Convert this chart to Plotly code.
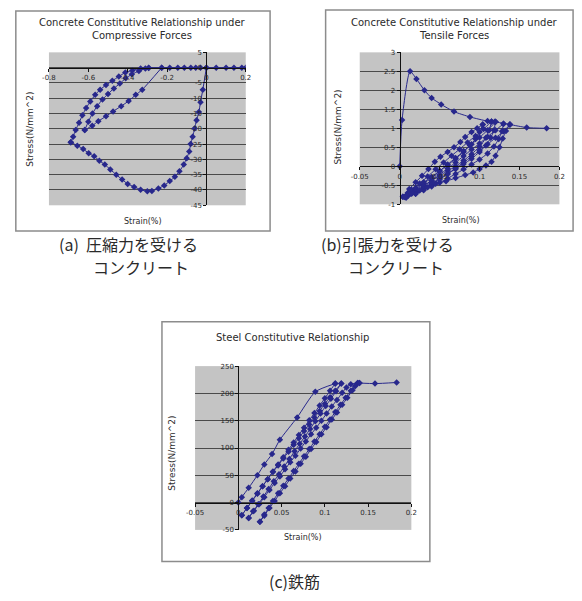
import plotly.graph_objects as go

W, H = 582, 601

# ---------------- (a) concrete under compression ----------------
a_env_x = [0.0, -0.018, -0.03, -0.038, -0.05, -0.06, -0.07, -0.08, -0.087, -0.1, -0.115,
           -0.137, -0.16, -0.186, -0.214, -0.244, -0.277, -0.3, -0.334, -0.367, -0.4,
           -0.428, -0.458, -0.488, -0.516, -0.544, -0.57, -0.598, -0.626, -0.656, -0.689]
a_env_y = [0, -7.2, -11.3, -14.5, -17.2, -19.9, -22.6, -25.0, -27.4, -29.6, -31.7,
           -33.9, -35.7, -37.1, -38.5, -39.5, -40.3, -40.4, -39.9, -39.0, -38.0,
           -36.6, -35.0, -33.3, -31.7, -30.4, -29.0, -28.0, -26.6, -25.5, -24.4]
a_unload1_x = [-0.689, -0.677, -0.664, -0.647, -0.63, -0.611, -0.59, -0.565, -0.54, -0.51,
               -0.478, -0.445, -0.412, -0.376, -0.334, -0.293]
a_unload1_y = [-24.4, -22.6, -20.4, -18.0, -15.6, -13.2, -11.1, -8.9, -7.2, -5.7,
               -4.3, -2.9, -1.6, -0.9, -0.3, -0.1]
a_zero_x = [-0.293, -0.227, -0.186, -0.145, -0.112, -0.079, -0.054, -0.03, 0.0,
            0.05, 0.1, 0.14, 0.18, 0.2]
a_zero_y = [0, 0, 0, 0, 0, 0, 0, 0, 0, 0, 0, 0, 0, 0]
a_reload_x = [-0.227, -0.326, -0.359, -0.395, -0.433, -0.474, -0.51, -0.549, -0.58, -0.618]
a_reload_y = [0, -7.2, -8.9, -10.9, -12.6, -14.3, -15.9, -17.5, -19.0, -20.4]
a_unload2_x = [-0.618, -0.6, -0.579, -0.555, -0.528, -0.5, -0.47, -0.44, -0.41, -0.379,
               -0.343, -0.31]
a_unload2_y = [-20.4, -17.7, -15.0, -12.6, -10.4, -8.6, -6.8, -5.2, -3.5, -2.2, -1.1, -0.3]

# ---------------- (b) concrete under tension ----------------
b_env_x = [0.0, 0.003, 0.013, 0.021, 0.031, 0.04, 0.052, 0.068, 0.088, 0.11, 0.119,
           0.138, 0.159, 0.184]
b_env_y = [0.0, 1.22, 2.5, 2.3, 2.0, 1.8, 1.63, 1.44, 1.3, 1.19, 1.17, 1.1, 1.02, 1.0]
b_r1_x = [0.004, 0.012, 0.02, 0.028, 0.036, 0.044, 0.051, 0.06, 0.068, 0.076, 0.082, 0.09, 0.097, 0.104]
b_r1_y = [-0.8, -0.6, -0.42, -0.25, -0.07, 0.12, 0.25, 0.38, 0.5, 0.64, 0.77, 0.9, 1.0, 1.1]
b_u1_x = [0.104, 0.1, 0.095, 0.088, 0.08, 0.07, 0.06, 0.05, 0.04, 0.03, 0.02, 0.01, 0.004]
b_u1_y = [1.1, 0.9, 0.72, 0.55, 0.38, 0.2, 0.03, -0.12, -0.28, -0.42, -0.57, -0.7, -0.8]
b_r2_x = [0.008, 0.015, 0.025, 0.035, 0.045, 0.055, 0.065, 0.075, 0.085, 0.095, 0.105, 0.115]
b_r2_y = [-0.78, -0.62, -0.45, -0.27, -0.08, 0.1, 0.28, 0.45, 0.63, 0.8, 0.98, 1.18]
b_u2_x = [0.115, 0.112, 0.108, 0.1, 0.09, 0.08, 0.07, 0.06, 0.05, 0.04, 0.03, 0.02, 0.012]
b_u2_y = [1.18, 0.95, 0.75, 0.52, 0.32, 0.15, 0.0, -0.12, -0.25, -0.38, -0.5, -0.62, -0.72]
b_r3_x = [0.012, 0.02, 0.03, 0.04, 0.05, 0.06, 0.07, 0.08, 0.09, 0.1, 0.11, 0.12]
b_r3_y = [-0.72, -0.6, -0.45, -0.3, -0.13, 0.05, 0.22, 0.4, 0.58, 0.76, 0.95, 1.17]
b_u3_x = [0.12, 0.118, 0.114, 0.108, 0.1, 0.09, 0.08, 0.07, 0.06, 0.05, 0.04, 0.03, 0.02, 0.01]
b_u3_y = [1.17, 0.95, 0.75, 0.55, 0.38, 0.2, 0.06, -0.07, -0.2, -0.32, -0.45, -0.57, -0.68, -0.78]
b_r4_x = [0.01, 0.02, 0.03, 0.04, 0.05, 0.06, 0.07, 0.08, 0.09, 0.1, 0.11, 0.12, 0.13]
b_r4_y = [-0.78, -0.66, -0.52, -0.38, -0.22, -0.06, 0.1, 0.27, 0.44, 0.6, 0.78, 0.95, 1.12]
b_u4_x = [0.13, 0.128, 0.124, 0.118, 0.11, 0.1, 0.09, 0.08, 0.07, 0.06, 0.05, 0.04, 0.03, 0.02, 0.008]
b_u4_y = [1.12, 0.92, 0.72, 0.52, 0.34, 0.18, 0.05, -0.08, -0.2, -0.32, -0.43, -0.53, -0.63, -0.72, -0.82]
b_r5_x = [0.008, 0.02, 0.03, 0.04, 0.05, 0.06, 0.07, 0.08, 0.09, 0.1, 0.11, 0.12, 0.13, 0.138]
b_r5_y = [-0.82, -0.72, -0.6, -0.48, -0.35, -0.2, -0.05, 0.1, 0.26, 0.42, 0.58, 0.75, 0.92, 1.1]
b_u5_x = [0.138, 0.133, 0.129, 0.125, 0.12, 0.115, 0.108, 0.1, 0.092, 0.082, 0.07, 0.058,
          0.045, 0.035, 0.025, 0.015, 0.006]
b_u5_y = [1.1, 0.93, 0.73, 0.5, 0.28, 0.12, 0.02, -0.07, -0.16, -0.23, -0.31, -0.39,
          -0.46, -0.55, -0.64, -0.72, -0.81]

# ---------------- (c) reinforcing steel ----------------
c_load_x = [0.0, 0.004, 0.012, 0.022, 0.03, 0.039, 0.048, 0.068, 0.089, 0.112]
c_load_y = [0, 10, 27, 50, 70, 89, 115, 156, 203, 218]
c_u1_x = [0.112, 0.106, 0.1, 0.094, 0.088, 0.082, 0.076, 0.07, 0.064, 0.058, 0.052, 0.046,
          0.04, 0.034, 0.028, 0.022, 0.016, 0.01, 0.004]
c_u1_y = [218, 205, 191, 178, 164, 151, 137, 124, 110, 97, 83, 70, 57, 43, 30, 16, 3, -10, -23]
c_r1_x = [0.004, 0.01, 0.016, 0.022, 0.028, 0.034, 0.04, 0.046, 0.052, 0.058, 0.064, 0.07,
          0.076, 0.082, 0.088, 0.094, 0.1, 0.106, 0.112, 0.119]
c_r1_y = [-23, -10, 4, 17, 30, 43, 56, 68, 81, 93, 106, 118, 131, 143, 156, 168, 181, 193, 205, 218]
c_u2_x = [0.119, 0.113, 0.107, 0.101, 0.095, 0.089, 0.083, 0.077, 0.071, 0.065, 0.059, 0.053,
          0.047, 0.041, 0.035, 0.029, 0.023, 0.017, 0.012]
c_u2_y = [218, 204, 190, 177, 163, 149, 135, 121, 108, 94, 80, 66, 52, 39, 25, 11, -3, -16, -28]
c_r2_x = [0.012, 0.018, 0.024, 0.03, 0.036, 0.042, 0.048, 0.054, 0.06, 0.066, 0.072, 0.078,
          0.084, 0.09, 0.096, 0.102, 0.108, 0.114, 0.12, 0.125, 0.13, 0.138]
c_r2_y = [-28, -15, -3, 10, 23, 36, 48, 61, 74, 86, 99, 112, 125, 137, 150, 163, 176, 188,
          201, 211, 217, 219]
c_u3_x = [0.138, 0.132, 0.126, 0.12, 0.114, 0.108, 0.102, 0.096, 0.09, 0.084, 0.078, 0.072,
          0.066, 0.06, 0.054, 0.048, 0.042, 0.036, 0.03, 0.025]
c_u3_y = [219, 206, 192, 179, 165, 152, 138, 125, 111, 98, 84, 71, 57, 44, 30, 17, 3, -10, -24, -35]
c_r3_x = [0.025, 0.03, 0.035, 0.04, 0.046, 0.052, 0.058, 0.064, 0.07, 0.076, 0.082, 0.088,
          0.094, 0.1, 0.106, 0.112, 0.118, 0.124, 0.13, 0.135, 0.14]
c_r3_y = [-35, -22, -10, 3, 17, 31, 44, 58, 71, 85, 98, 112, 125, 139, 152, 166, 179, 192,
          205, 213, 219]
c_env_x = [0.14, 0.158, 0.183]
c_env_y = [219, 218, 220]

# tick values and labels
a_xticks = [-0.8, -0.6, -0.4, -0.2, 0, 0.2]
a_xtext = ["-0.8", "-0.6", "-0.4", "-0.2", "0", "0.2"]
a_yticks = [5, 0, -5, -10, -15, -20, -25, -30, -35, -40, -45]
a_ytext = ["5", "0", "-5", "-10", "-15", "-20", "-25", "-30", "-35", "-40", "-45"]
b_xticks = [-0.05, 0, 0.05, 0.1, 0.15, 0.2]
b_xtext = ["-0.05", "0", "0.05", "0.1", "0.15", "0.2"]
b_yticks = [3, 2.5, 2, 1.5, 1, 0.5, 0, -0.5, -1]
b_ytext = ["3", "2.5", "2", "1.5", "1", "0.5", "0", "-0.5", "-1"]
c_xticks = [-0.05, 0, 0.05, 0.1, 0.15, 0.2]
c_xtext = ["-0.05", "0", "0.05", "0.1", "0.15", "0.2"]
c_yticks = [250, 200, 150, 100, 50, 0, -50]
c_ytext = ["250", "200", "150", "100", "50", "0", "-50"]

NAVY = "#28288c"
TXT = "#2a2a2a"
LATIN = "DejaVu Sans, Arial, sans-serif"
TICKFONT = dict(family=LATIN, size=7, color=TXT)

fig = go.Figure()


def add_path(xs, ys, xa, ya):
    fig.add_trace(go.Scatter(
        x=xs, y=ys, xaxis=xa, yaxis=ya, mode="lines+markers",
        line=dict(color=NAVY, width=1, shape="spline", smoothing=0.6),
        marker=dict(symbol="diamond", size=5, color=NAVY, line=dict(width=0)),
        showlegend=False, hoverinfo="skip"))


for xs, ys in [(a_env_x, a_env_y), (a_unload1_x, a_unload1_y), (a_zero_x, a_zero_y),
               (a_reload_x, a_reload_y), (a_unload2_x, a_unload2_y)]:
    add_path(xs, ys, "x", "y")

for xs, ys in [(b_env_x, b_env_y), (b_r1_x, b_r1_y), (b_u1_x, b_u1_y), (b_r2_x, b_r2_y),
               (b_u2_x, b_u2_y), (b_r3_x, b_r3_y), (b_u3_x, b_u3_y), (b_r4_x, b_r4_y),
               (b_u4_x, b_u4_y), (b_r5_x, b_r5_y), (b_u5_x, b_u5_y)]:
    add_path(xs, ys, "x2", "y2")

for xs, ys in [(c_load_x, c_load_y), (c_u1_x, c_u1_y), (c_r1_x, c_r1_y), (c_u2_x, c_u2_y),
               (c_r2_x, c_r2_y), (c_u3_x, c_u3_y), (c_r3_x, c_r3_y), (c_env_x, c_env_y)]:
    add_path(xs, ys, "x3", "y3")


def set_axes(n, box, xr, yr, xt, xl, yt, yl):
    """Place a subplot in pixel box (left, top, right, bottom) with axes crossing at zero."""
    x0, y0, x1, y1 = box
    xd = [x0 / W, x1 / W]
    yd = [1 - y1 / H, 1 - y0 / H]
    xpos = yd[0] + (0 - yr[0]) / (yr[1] - yr[0]) * (yd[1] - yd[0])
    ypos = xd[0] + (0 - xr[0]) / (xr[1] - xr[0]) * (xd[1] - xd[0])
    sfx = "" if n == 1 else str(n)
    fig.layout["xaxis" + sfx] = dict(
        domain=xd, range=xr, anchor="free", position=xpos, showgrid=False, zeroline=False,
        showline=True, linecolor="#111", linewidth=1, ticks="outside", ticklen=3,
        tickcolor="#111", tickvals=xt, ticktext=xl, tickfont=TICKFONT, fixedrange=True)
    fig.layout["yaxis" + sfx] = dict(
        domain=yd, range=yr, anchor="free", position=ypos, showgrid=True, gridcolor="#4a4a4a",
        gridwidth=1, zeroline=False, showline=True, linecolor="#111", linewidth=1,
        ticks="outside", ticklen=3, tickcolor="#111", tickvals=yt, ticktext=yl,
        tickfont=TICKFONT, fixedrange=True)


set_axes(1, (41, 49, 243, 204), [-0.8, 0.2], [-45, 5], a_xticks, a_xtext, a_yticks, a_ytext)
set_axes(2, (360, 49, 565, 203), [-0.05, 0.2], [-1, 3], b_xticks, b_xtext, b_yticks, b_ytext)
set_axes(3, (191, 367, 413, 533), [-0.05, 0.2], [-50, 250], c_xticks, c_xtext, c_yticks, c_ytext)

# chart frames
shapes = []
for (l, t, r, b) in [(7, 7, 268, 230), (325, 6, 579, 230), (157, 322, 432, 565)]:
    shapes.append(dict(type="rect", xref="paper", yref="paper", x0=l / W, x1=r / W,
                       y0=1 - b / H, y1=1 - t / H, line=dict(color="#8c8c8c", width=1.5)))

ann = []


def text(x, y, s, size, family=LATIN, angle=0, color=TXT):
    ann.append(dict(x=x / W, y=1 - y / H, xref="paper", yref="paper", text=s,
                    showarrow=False, xanchor="center", yanchor="middle", textangle=angle,
                    font=dict(family=family, size=size, color=color)))


# chart titles
text(137, 19, "Concrete Constitutive Relationship under", 10)
text(137, 32, "Compressive Forces", 10)
text(457, 19, "Concrete Constitutive Relationship under", 10)
text(457, 32, "Tensile Forces", 10)
text(291, 338, "Steel Constitutive Relationship", 10)

# axis titles
text(22, 127, "Stress(N/mm^2)", 9, angle=-90)
text(138, 220, "Strain(%)", 8)
text(338, 125, "Stress(N/mm^2)", 9, angle=-90)
text(464, 219, "Strain(%)", 8)
text(167, 455, "Stress(N/mm^2)", 9, angle=-90)
text(302, 541, "Strain(%)", 8)

# captions
JP = "Noto Sans CJK JP"
text(123, 243, "(a)  圧縮力を受ける", 16, family=JP)
text(135, 267, "コンクリート", 16, family=JP)
text(389, 243, "(b)引張力を受ける", 16, family=JP)
text(397, 267, "コンクリート", 16, family=JP)
text(293, 585, "(c)鉄筋", 16, family=JP)

fig.update_layout(
    width=W, height=H, autosize=False, margin=dict(l=0, r=0, t=0, b=0),
    paper_bgcolor="white", plot_bgcolor="#c4c4c4",
    shapes=shapes, annotations=ann, showlegend=False)

fig.write_html("out.html")
